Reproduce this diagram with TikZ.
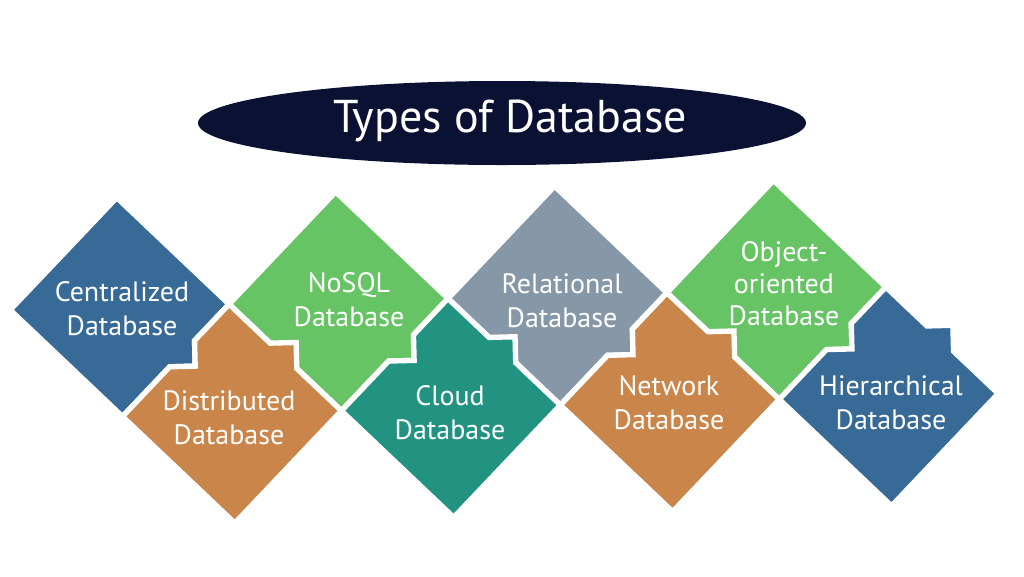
\documentclass[tikz,border=0pt]{standalone}
\usepackage{fontspec}
\setmainfont{PT Sans}

\definecolor{navyDB}{RGB}{10,17,50}
\definecolor{blueDB}{RGB}{55,106,150}
\definecolor{orangeDB}{RGB}{201,133,74}
\definecolor{greenDB}{RGB}{102,196,100}
\definecolor{tealDB}{RGB}{35,147,129}
\definecolor{greyDB}{RGB}{134,151,168}

\tikzset{every picture/.style={line width=0.75pt}}
\tikzset{tile/.style={draw=white, line width=4pt, line join=miter},
  lbl/.style={text=white, font=\fontsize{21}{25.5}\selectfont, align=center, inner sep=0pt}}

% upper tile: diamond with a step on its lower right edge
\newcommand{\uptile}[3]{\draw [tile, fill=#3, shift={(#1,#2)}] (0,-109.5) -- (109.5,0) -- (74,35.5) -- (74,61) -- (48.5,61) -- (0,109.5) -- (-109.5,0) -- cycle ;}
% lower tile: notch upper left, step upper right
\newcommand{\lowtile}[3]{\draw [tile, fill=#3, shift={(#1,#2)}] (0,-109.5) -- (40,-69.5) -- (66,-69.5) -- (66,-43.5) -- (109.5,0) -- (0,109.5) -- (-109.5,0) -- (-61,-48.5) -- (-35.5,-48.5) -- (-35.5,-74) -- cycle ;}

\begin{document}
\begin{tikzpicture}[x=0.75pt,y=0.75pt,yscale=-1,xscale=1]
\useasboundingbox (0,0) rectangle (1024,576);

%Shape: Ellipse
\draw  [fill=navyDB, draw=none] (502,123) ellipse (304 and 42) ;
% Text Node
\draw (510,121) node (title) [text=white, font=\fontsize{34.5}{40}\selectfont] {Types of Database};

\begin{scope}[rotate around={-1.5:(505,355)}]
%Shape: Upper tiles
\uptile{121}{297}{blueDB}
\uptile{340}{297}{greenDB}
\uptile{559}{297}{greyDB}
\uptile{778}{297}{greenDB}
%Shape: Lower tiles
\lowtile{230.5}{406.5}{orangeDB}
\lowtile{449.5}{406.5}{tealDB}
\lowtile{668.5}{406.5}{orangeDB}
\lowtile{887.5}{406.5}{blueDB}
\end{scope}

% Text Node
\draw (122,309) node (cent) [lbl] {Centralized\\Database};
% Text Node
\draw (229,418) node (dist) [lbl] {Distributed\\Database};
% Text Node
\draw (349,300) node (nosql) [lbl] {NoSQL\\Database};
% Text Node
\draw (450,413) node (cloud) [lbl] {Cloud\\Database};
% Text Node
\draw (562,301) node (rel) [lbl] {Relational\\Database};
% Text Node
\draw (669,403) node (net) [lbl] {Network\\Database};
% Text Node
\draw (784,284) node (obj) [lbl, font=\fontsize{21}{24}\selectfont] {Object-\\oriented\\Database};
% Text Node
\draw (891,403) node (hier) [lbl] {Hierarchical\\Database};

\end{tikzpicture}
\end{document}
